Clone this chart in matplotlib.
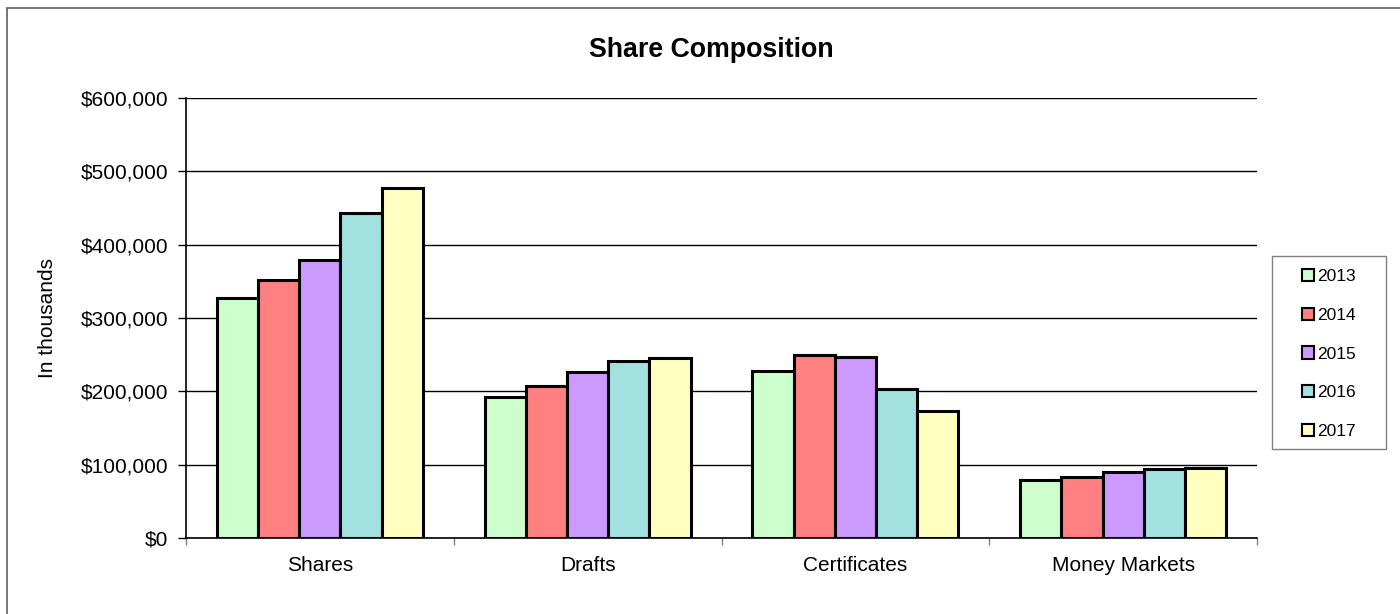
import matplotlib.pyplot as plt
import matplotlib.patches as patches
from matplotlib.ticker import FuncFormatter, FixedLocator
import numpy as np

plt.rcParams['font.family'] = ['Liberation Sans', 'DejaVu Sans']

categories = ["Shares", "Drafts", "Certificates", "Money Markets"]
years = ["2013", "2014", "2015", "2016", "2017"]
colors = ["#ccffcc", "#ff8080", "#cc99ff", "#a3e0e0", "#ffffc0"]

# values in thousands, one list per year
v2013 = [327700, 191800, 227700, 79000]
v2014 = [351800, 207300, 249000, 82700]
v2015 = [379000, 226400, 246800, 89500]
v2016 = [442700, 241400, 202700, 94500]
v2017 = [476800, 245900, 173200, 95900]
series = [v2013, v2014, v2015, v2016, v2017]

fig = plt.figure(figsize=(14, 6.14), dpi=100)
ax = fig.add_axes([186/1400, 1-538/614, (1257-186)/1400, (538-98)/614])

x = np.arange(len(categories))
w = 0.154
for i, (vals, c, yr) in enumerate(zip(series, colors, years)):
    ax.bar(x + (i-2)*w, vals, width=w, color=c, edgecolor='black',
           linewidth=2.2, label=yr, zorder=3)

ax.set_xlim(-0.5, 3.5)
ax.set_ylim(0, 600000)
ax.set_yticks(np.arange(0, 600001, 100000))
ax.yaxis.set_major_formatter(FuncFormatter(lambda v, p: "${:,.0f}".format(v)))
ax.grid(axis='y', color='black', linewidth=1.0, zorder=0)
ax.set_axisbelow(True)

ax.set_xticks(x)
ax.set_xticklabels(categories, fontsize=15)
ax.tick_params(axis='x', which='major', length=0, pad=13)
ax.xaxis.set_minor_locator(FixedLocator([-0.5, 0.5, 1.5, 2.5, 3.5]))
ax.tick_params(axis='x', which='minor', length=5, color='#808080', width=1)
ax.tick_params(axis='y', labelsize=15, length=6, width=1, pad=7)

for s in ['top', 'right']:
    ax.spines[s].set_visible(False)
ax.spines['left'].set_linewidth(1.2)
ax.spines['bottom'].set_linewidth(1.2)

ax.set_ylabel("In thousands", fontsize=15)
ax.yaxis.set_label_coords((57-186)/1071, 0.5)

fig.text(711/1400, 1-50/614, "Share Composition", fontsize=19.3,
         fontweight='bold', ha='center', va='center')

leg = ax.legend(loc='center', bbox_to_anchor=(1329/1400, 1-354/614),
                bbox_transform=fig.transFigure, fontsize=12.5,
                frameon=False, handlelength=0.7, handleheight=0.7,
                handletextpad=0.2, labelspacing=1.36, borderpad=0,
                borderaxespad=0)
for h in leg.legend_handles:
    h.set_linewidth(1.5)

# legend box
fig.patches.append(patches.Rectangle((1272/1400, 1-449/614), 114/1400, 193/614,
                                     transform=fig.transFigure, fill=False,
                                     edgecolor='#808080', linewidth=1.0))

# outer chart border
fig.patches.append(patches.Rectangle((7/1400, -0.05), 1.2, 1-8/614+0.05,
                                     transform=fig.transFigure, fill=False,
                                     edgecolor='#606060', linewidth=1.2))

fig.savefig("out.png", dpi=100)
